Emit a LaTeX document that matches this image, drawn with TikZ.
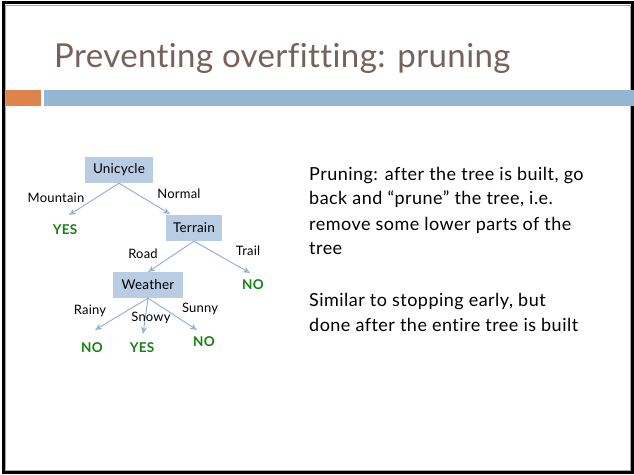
\documentclass[tikz,border=0pt]{standalone}
\usepackage{fontspec}
\setmainfont{Lato}[LetterSpace=2.6, Ligatures={NoCommon,NoRare,NoContextual}]
\newfontfamily\titlefont{Lato}[LetterSpace=1.2, Ligatures={NoCommon,NoRare,NoContextual}]
\newfontfamily\treefont{Lato}[LetterSpace=1.5, Ligatures={NoCommon,NoRare,NoContextual}]
\usetikzlibrary{arrows.meta}
\definecolor{titlebrown}{RGB}{118,98,90}
\definecolor{barorange}{RGB}{222,131,75}
\definecolor{barblue}{RGB}{148,182,210}
\definecolor{boxfill}{RGB}{184,204,228}
\definecolor{arrowblue}{RGB}{140,175,208}
\definecolor{leafgreen}{RGB}{20,130,20}
\tikzset{
  treebox/.style={fill=boxfill, inner sep=0pt, minimum height=26pt, font=\treefont\fontsize{13.5}{15}\selectfont},
  edgelbl/.style={inner sep=0pt, font=\treefont\fontsize{13}{15}\selectfont},
  leaf/.style={inner sep=0pt, text=leafgreen, font=\treefont\fontsize{13.5}{15}\selectfont\bfseries},
  branch/.style={draw=arrowblue, line width=0.9pt, -{Stealth[length=7pt,width=6pt,open]}},
  bodytext/.style={inner sep=0pt, anchor=base west, font=\fontsize{18}{20}\selectfont}
}
\begin{document}
\begin{tikzpicture}[x=1pt,y=-1pt]
\useasboundingbox (0,0) rectangle (634,474);
\fill[white] (0,0) rectangle (634,474);
% frame
\draw[black, line width=3pt] (3,2.5) rectangle (632.5,472.5);
\draw[gray!70, line width=0.8pt] (5.5,5) rectangle (630.5,470.5);
% bars
\fill[barorange] (6,90) rectangle (41,106);
\fill[barblue] (44,90) rectangle (634,106);
% title
\node[anchor=base west, inner sep=0pt, text=titlebrown, font=\titlefont\fontsize{33}{36}\selectfont] (title) at (54,67) {Preventing overfitting: pruning};
% tree
\node[treebox, minimum width=68pt] (uni) at (119,170) {Unicycle};
\node[treebox, minimum width=56pt] (ter) at (194,228) {Terrain};
\node[treebox, minimum width=70pt] (wea) at (148,285) {Weather};
\node[leaf] (yes1) at (65,230) {YES};
\node[leaf] (no1) at (253,285) {NO};
\node[leaf] (no2) at (92,348) {NO};
\node[leaf] (yes2) at (142,348) {YES};
\node[leaf] (no3) at (204,342) {NO};
\coordinate (a1) at (69,215);
\coordinate (a2) at (170,214);
\coordinate (a3) at (148,272);
\coordinate (a4) at (250,273);
\coordinate (a5) at (95,330);
\coordinate (a6) at (143,334);
\coordinate (a7) at (197,330);
\draw[branch] (uni.south) -- (a1);
\draw[branch] (uni.south) -- (a2);
\draw[branch] (ter.south) -- (a3);
\draw[branch] (ter.south) -- (a4);
\draw[branch] (wea.south) -- (a5);
\draw[branch] (wea.south) -- (a6);
\draw[branch] (wea.south) -- (a7);
\node[edgelbl] (l1) at (56,198) {Mountain};
\node[edgelbl] (l2) at (179,194) {Normal};
\node[edgelbl] (l3) at (143,254) {Road};
\node[edgelbl] (l4) at (248,251) {Trail};
\node[edgelbl] (l5) at (90,311) {Rainy};
\node[edgelbl] (l6) at (151,318) {Snowy};
\node[edgelbl] (l7) at (200,309) {Sunny};
% body text
\node[bodytext] (t1) at (309,180) {Pruning: after the tree is built, go};
\node[bodytext] (t2) at (309,204) {back and “prune” the tree, i.e.};
\node[bodytext] (t3) at (309,230) {remove some lower parts of the};
\node[bodytext] (t4) at (309,254) {tree};
\node[bodytext] (t5) at (309,306) {Similar to stopping early, but};
\node[bodytext] (t6) at (309,331) {done after the entire tree is built};
\end{tikzpicture}
\end{document}
